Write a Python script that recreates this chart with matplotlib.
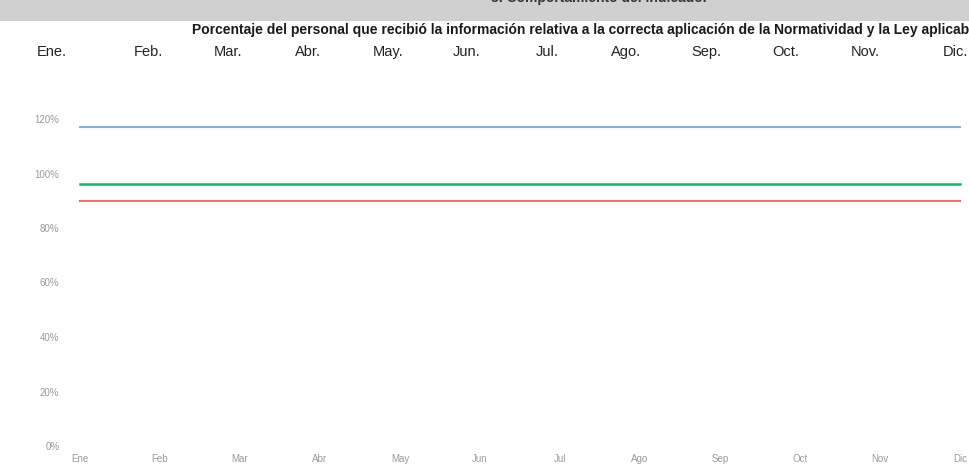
import matplotlib.pyplot as plt
from matplotlib.ticker import PercentFormatter

meses = ["Ene", "Feb", "Mar", "Abr", "May", "Jun", "Jul", "Ago", "Sep", "Oct", "Nov", "Dic"]
meses_tabla = ["Ene.", "Feb.", "Mar.", "Abr.", "May.", "Jun.", "Jul.", "Ago.", "Sep.", "Oct.", "Nov.", "Dic."]

# valores (porcentaje)
linea_azul = [117, 117, 117, 117, 117, 117, 117, 117, 117, 117, 117, 117]
linea_verde = [96, 96, 96, 96, 96, 96, 96, 96, 96, 96, 96, 96]
linea_roja = [90, 90, 90, 90, 90, 90, 90, 90, 90, 90, 90, 90]

titulo = "Porcentaje del personal que recibió la información relativa a la correcta aplicación de la Normatividad y la Ley aplicable"
seccion = "3. Comportamiento del indicador"

plt.rcParams['font.family'] = ['Liberation Sans Narrow', 'Liberation Sans', 'DejaVu Sans']

W, H = 969, 468
fig = plt.figure(figsize=(W / 100, H / 100), dpi=100)
fig.patch.set_facecolor("white")

# banda gris del encabezado escaneado
fig.patches.append(plt.Rectangle((0, 1 - 21 / H), 1, 21 / H, transform=fig.transFigure,
                                 facecolor="#d0d0d0", edgecolor="none", zorder=0))
fig.text(600 / W, 1 - 5 / H, seccion, ha="center", va="bottom", fontsize=10,
         fontweight="bold", color="#333333")
fig.text(192 / W, 1 - 34 / H, titulo, ha="left", va="baseline", fontsize=10,
         fontweight="bold", color="#1a1a1a", family=['Liberation Sans', 'DejaVu Sans'])

# fila de meses de la tabla
pos_tabla = [52, 148, 228, 308, 388, 467, 547, 626, 706, 786, 865, 955]
for m, px in zip(meses_tabla, pos_tabla):
    fig.text(px / W, 1 - 56 / H, m, ha="center", va="baseline", fontsize=10.5, color="#222222")

# area de la grafica
left_px, right_px = 65, 965
bottom_px, top_px = 446, 100
ax = fig.add_axes([left_px / W, 1 - bottom_px / H, (right_px - left_px) / W, (bottom_px - top_px) / H])
x = list(range(len(meses)))
ax.plot(x, linea_azul, color="#7ab2e6", lw=1.5)
ax.plot(x, linea_verde, color="#1fae6c", lw=1.8)
ax.plot(x, linea_roja, color="#ee6f7c", lw=1.5)

px_per_unit = 80
ax.set_xlim(-(80 - left_px) / px_per_unit, 11 + (right_px - 960) / px_per_unit)
ax.set_ylim(0, (bottom_px - top_px) / 2.725)
ax.set_yticks([0, 20, 40, 60, 80, 100, 120])
ax.yaxis.set_major_formatter(PercentFormatter(decimals=0))
ax.set_xticks(x)
ax.set_xticklabels(meses)
ax.tick_params(length=0, labelsize=7, labelcolor="#9a9a9a", pad=4)
ax.tick_params(axis="x", pad=6)
for s in ax.spines.values():
    s.set_visible(False)

fig.savefig("out.png", dpi=100)
